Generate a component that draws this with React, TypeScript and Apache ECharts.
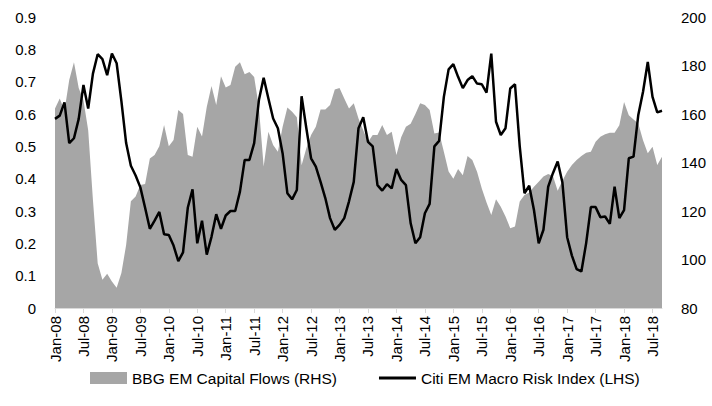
import React, { useEffect, useRef } from "react";
import * as echarts from "echarts";

const MONTHS = ["Jan", "Feb", "Mar", "Apr", "May", "Jun", "Jul", "Aug", "Sep", "Oct", "Nov", "Dec"];
const START_YEAR = 2008;
const N_POINTS = 129; // Jan-08 .. Sep-18
const categories: string[] = [];
for (let i = 0; i < N_POINTS; i++) {
  const y = START_YEAR + Math.floor(i / 12);
  categories.push(`${MONTHS[i % 12]}-${String(y % 100).padStart(2, "0")}`);
}

// Citi EM Macro Risk Index (LHS)
const citiRisk: number[] = [
  0.585, 0.595, 0.636, 0.51, 0.525, 0.585, 0.69, 0.617, 0.725, 0.785,
  0.77, 0.72, 0.787, 0.757, 0.64, 0.51, 0.44, 0.41, 0.373, 0.31,
  0.245, 0.27, 0.297, 0.228, 0.226, 0.193, 0.145, 0.172, 0.31, 0.367,
  0.2, 0.27, 0.165, 0.22, 0.29, 0.245, 0.286, 0.3, 0.3, 0.36,
  0.458, 0.458, 0.51, 0.643, 0.712, 0.648, 0.586, 0.556, 0.478, 0.355,
  0.336, 0.365, 0.655, 0.556, 0.463, 0.437, 0.39, 0.34, 0.278, 0.242,
  0.257, 0.278, 0.33, 0.39, 0.556, 0.59, 0.514, 0.5, 0.38, 0.363,
  0.383, 0.37, 0.43, 0.396, 0.38, 0.262, 0.2, 0.219, 0.293, 0.322,
  0.5, 0.517, 0.653, 0.738, 0.754, 0.715, 0.68, 0.705, 0.717, 0.694,
  0.692, 0.666, 0.787, 0.576, 0.535, 0.556, 0.679, 0.692, 0.5, 0.355,
  0.378, 0.303, 0.2, 0.242, 0.375, 0.417, 0.453, 0.388, 0.219, 0.162,
  0.12, 0.113, 0.2, 0.312, 0.312, 0.281, 0.283, 0.26, 0.375, 0.278,
  0.303, 0.463, 0.468, 0.597, 0.669, 0.761, 0.653, 0.605, 0.61,
];

// BBG EM Capital Flows (RHS)
const bbgFlows: number[] = [
  162.3, 166.4, 161.3, 174.0, 181.3, 170.7, 165.7, 153.3, 124.5, 98.5,
  91.6, 94.1, 90.9, 88.3, 94.4, 106.0, 124.0, 126.0, 130.7, 131.1,
  141.7, 143.1, 146.7, 155.5, 146.7, 149.3, 161.6, 160.0, 143.1, 142.4,
  154.7, 150.7, 162.9, 171.5, 163.7, 175.6, 170.9, 172.0, 179.5, 181.3,
  176.4, 177.3, 175.3, 162.7, 138.3, 152.7, 147.2, 144.4, 154.7, 162.7,
  160.9, 158.7, 138.9, 145.9, 151.3, 154.7, 161.9, 161.9, 163.7, 170.1,
  170.7, 166.4, 162.3, 164.4, 158.1, 153.3, 148.5, 151.3, 151.3, 155.5,
  151.3, 152.7, 143.1, 150.4, 154.7, 156.0, 160.0, 164.4, 163.7, 161.6,
  152.0, 152.4, 144.4, 136.3, 133.3, 137.3, 134.7, 142.7, 141.0, 136.2,
  129.3, 123.5, 118.4, 124.8, 121.8, 117.7, 112.9, 113.6, 123.9, 126.6,
  127.6, 130.0, 132.1, 134.2, 135.3, 134.4, 128.4, 132.5, 136.2, 139.0,
  141.0, 142.7, 144.0, 144.4, 148.6, 150.6, 151.6, 152.3, 152.3, 155.4,
  165.0, 159.5, 157.7, 156.1, 149.2, 143.8, 146.5, 139.0, 142.4,
];

const SERIES_AREA = "BBG EM Capital Flows (RHS)";
const SERIES_LINE = "Citi EM Macro Risk Index (LHS)";

const FONT = "'Liberation Sans', Arial, sans-serif";

export default function App() {
  const ref = useRef<HTMLDivElement>(null);

  useEffect(() => {
    if (!ref.current) return;
    const chart = echarts.init(ref.current, null, { renderer: "svg" });
    const every6 = (idx: number) => idx % 6 === 0;
    chart.setOption({
      animation: false,
      textStyle: { fontFamily: FONT },
      grid: { left: 55, right: 50, top: 17, bottom: 98, containLabel: false },
      legend: {
        left: 85,
        top: 365,
        itemWidth: 37,
        itemHeight: 12,
        itemGap: 42,
        symbolKeepAspect: true,
        textStyle: { fontSize: 15.5, color: "#000", fontFamily: FONT },
        data: [
          { name: SERIES_AREA, icon: "rect" },
          { name: SERIES_LINE, icon: "path://M0,0H37V3H0Z" },
        ],
      },
      xAxis: {
        type: "category",
        data: categories,
        boundaryGap: false,
        axisLine: { show: true, lineStyle: { color: "#d9d9d9", width: 1 } },
        axisTick: { show: true, interval: every6, length: 5, lineStyle: { color: "#d9d9d9" } },
        axisLabel: {
          interval: every6,
          rotate: 90,
          margin: 8,
          fontSize: 15,
          color: "#000",
          fontFamily: FONT,
        },
        splitLine: { show: false },
      },
      yAxis: [
        {
          type: "value",
          min: 0,
          max: 0.9,
          interval: 0.1,
          axisLine: { show: false },
          axisTick: { show: false },
          splitLine: { show: false },
          axisLabel: {
            fontSize: 15,
            color: "#000",
            margin: 19,
            fontFamily: FONT,
            formatter: (v: number) => (v === 0 ? "0" : v.toFixed(1)),
          },
        },
        {
          type: "value",
          min: 80,
          max: 200,
          interval: 20,
          position: "right",
          axisLine: { show: false },
          axisTick: { show: false },
          splitLine: { show: false },
          axisLabel: { fontSize: 15, color: "#000", margin: 19, fontFamily: FONT },
        },
      ],
      series: [
        {
          name: SERIES_AREA,
          type: "line",
          yAxisIndex: 1,
          data: bbgFlows,
          symbol: "none",
          lineStyle: { width: 0, color: "#a6a6a6" },
          itemStyle: { color: "#a6a6a6" },
          areaStyle: { color: "#a6a6a6", opacity: 1, origin: "start" },
          z: 1,
        },
        {
          name: SERIES_LINE,
          type: "line",
          yAxisIndex: 0,
          data: citiRisk,
          symbol: "none",
          lineStyle: { width: 2.5, color: "#000" },
          itemStyle: { color: "#000" },
          z: 2,
        },
      ],
    });
    return () => chart.dispose();
  }, []);

  return (
    <div
      ref={ref}
      style={{ position: "fixed", left: 0, top: 0, width: 712, height: 406, background: "#fff" }}
    />
  );
}
